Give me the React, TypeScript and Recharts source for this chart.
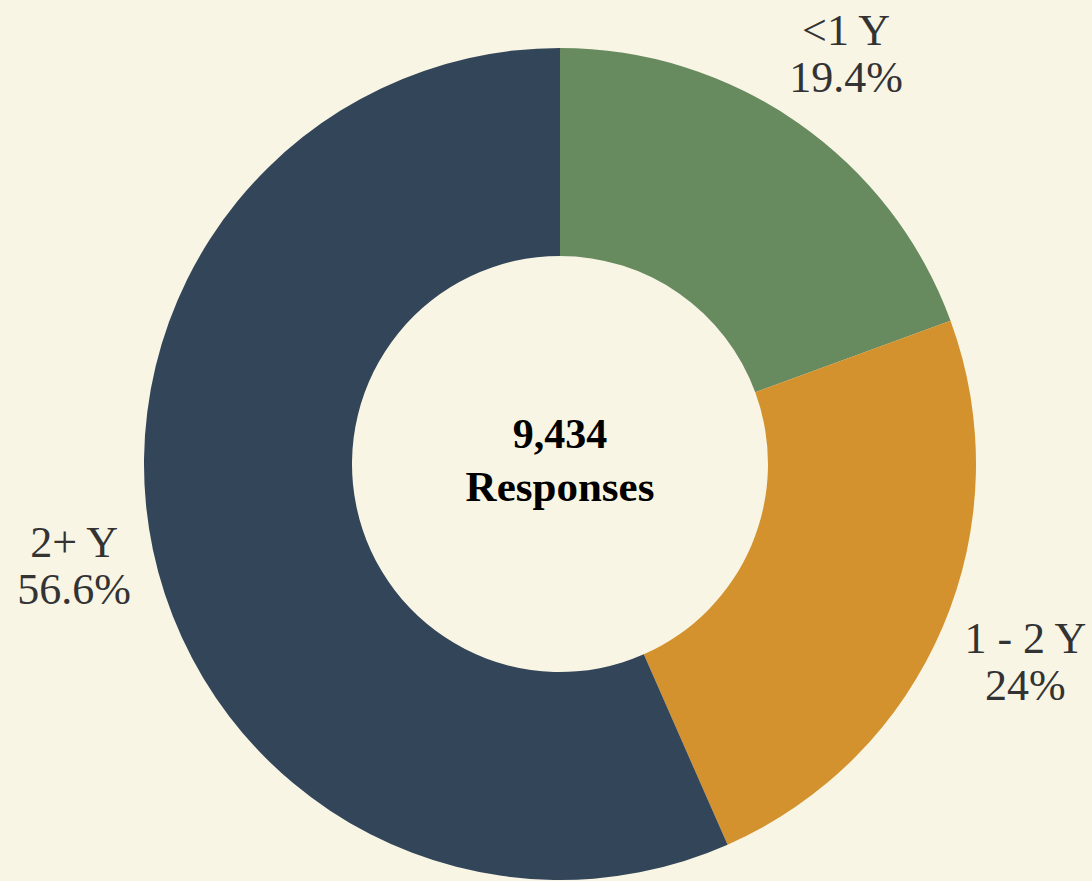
import { PieChart, Pie, Cell } from 'recharts';

const categories = ['<1 Y', '1 - 2 Y', '2+ Y'];
const shares = [19.4, 24, 56.6];
const colors = ['#678a5f', '#d3922d', '#334559'];
const totalResponses = '9,434';
const centerCaption = 'Responses';

const data = categories.map((name, i) => ({ name, value: shares[i] }));

const RADIAN = Math.PI / 180;
const serif = '"Liberation Serif", "Times New Roman", serif';
const LABEL_SIZE = 44;

let ctx: CanvasRenderingContext2D | null = null;
function textWidth(s: string) {
  if (!ctx) ctx = document.createElement('canvas').getContext('2d');
  if (!ctx) return s.length * LABEL_SIZE * 0.5;
  ctx.font = `${LABEL_SIZE}px ${serif}`;
  return ctx.measureText(s).width;
}

// label box pushed outward so its near edge clears the ring
function renderLabel(props: any) {
  const { cx, cy, midAngle, index } = props;
  const line1 = categories[index];
  const line2 = `${shares[index]}%`;
  const w = Math.max(textWidth(line1), textWidth(line2));
  const h = 86;
  const c = Math.cos(-midAngle * RADIAN);
  const s = Math.sin(-midAngle * RADIAN);
  const r = 432 + Math.abs(c) * w / 2 + Math.abs(s) * h / 2;
  const x = cx + r * c;
  const y = cy + r * s;
  return (
    <text
      x={x}
      y={y}
      textAnchor="middle"
      fill="#333333"
      style={{ fontFamily: serif, fontSize: LABEL_SIZE }}
    >
      <tspan x={x} dy={-9}>{line1}</tspan>
      <tspan x={x} dy={47}>{line2}</tspan>
    </text>
  );
}

export default function App() {
  return (
    <div
      style={{
        position: 'absolute', top: 0, left: 0, width: 1092, height: 881,
        background: '#f8f5e4', overflow: 'hidden',
      }}
    >
      <PieChart width={1092} height={881} margin={{ top: 0, right: 0, bottom: 0, left: 0 }}>
        <Pie
          data={data}
          dataKey="value"
          nameKey="name"
          cx={560}
          cy={464}
          innerRadius={208}
          outerRadius={416}
          startAngle={90}
          endAngle={-270}
          stroke="none"
          label={renderLabel}
          labelLine={false}
          isAnimationActive={false}
        >
          {data.map((d, i) => (
            <Cell key={d.name} fill={colors[i]} />
          ))}
        </Pie>
        <text
          x={560}
          y={448}
          textAnchor="middle"
          fill="#000"
          style={{ fontFamily: serif, fontSize: 42, fontWeight: 'bold' }}
        >
          {totalResponses}
        </text>
        <text
          x={560}
          y={501}
          textAnchor="middle"
          fill="#000"
          style={{ fontFamily: serif, fontSize: 43, fontWeight: 'bold' }}
        >
          {centerCaption}
        </text>
      </PieChart>
    </div>
  );
}
